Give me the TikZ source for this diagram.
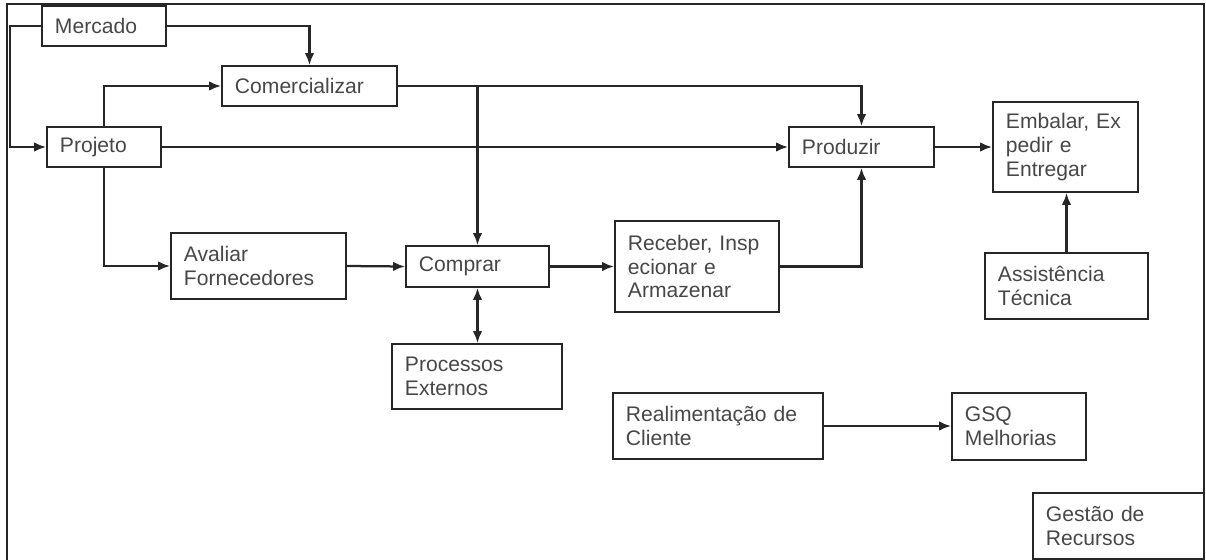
\documentclass[tikz,border=0pt]{standalone}
\usepackage{fontspec}
\setmainfont{Liberation Sans}
\usetikzlibrary{shapes,arrows,arrows.meta}
\usetikzlibrary{calc}
\usetikzlibrary{positioning}

\begin{document}
\begin{tikzpicture}[x=0.025cm, y=-0.025cm,
	caixa/.style={rectangle,draw=black!85,line width=1.3pt,align=left,inner xsep=0.325cm,inner ysep=0pt,
		font=\fontsize{15}{17}\selectfont,text=black!72,minimum height=1cm},
	ponta/.tip={Latex[length=3mm,width=2.4mm]},
	fluxo/.style={draw=black!85,line width=1.6pt,-ponta}]

	\useasboundingbox (0,0) rectangle (1206,560);
	\draw[black!85,line width=1.6pt] (7,565) -- (7,4) -- (1204,4) -- (1204,565);

	\node[caixa, text width=2.45cm] (merc) at (104,26) {Mercado};
	\node[caixa, text width=3.725cm] (comer) at (309.5,86) {Comercializar};
	\node[caixa, text width=2.2cm] (proj) at (104,147) {Projeto};
	\node[caixa, text width=2.975cm] (prod) at (861.5,147) {Produzir};
	\node[caixa, text width=2.975cm, minimum height=2.25cm] (emb) at (1065.5,147) {Embalar, Ex\\pedir e\\Entregar};
	\node[caixa, text width=3.425cm, minimum height=1.65cm] (asst) at (1066.5,286) {Assistência\\Técnica};
	\node[caixa, text width=3.725cm, minimum height=1.65cm] (aval) at (258.5,266) {Avaliar\\Fornecedores};
	\node[caixa, text width=2.925cm, minimum height=1.025cm] (compr) at (477.5,266.5) {Comprar};
	\node[caixa, text width=3.45cm, minimum height=2.275cm] (receb) at (697,266.5) {Receber, Insp\\ecionar e\\Armazenar};
	\node[caixa, text width=3.6cm, minimum height=1.625cm] (proc) at (477,376.5) {Processos\\Externos};
	\node[caixa, text width=4.6cm, minimum height=1.65cm] (real) at (718,426) {Realimentação de\\Cliente};
	\node[caixa, text width=2.7cm, minimum height=1.675cm] (gsq) at (1019,426.5) {GSQ\\Melhorias};
	\node[caixa, text width=3.625cm, minimum height=1.65cm] (gest) at (1118.5,526) {Gestão de\\Recursos};

	% ligacoes
	\draw[fluxo] (merc.west) -- ++(-31,0) |- (proj.west);
	\draw[fluxo] (merc.east) -| (comer.north);
	\draw[fluxo] (proj.north) |- (comer.west);
	\draw[fluxo] (proj.east) -- (prod.west);
	\draw[fluxo] (comer.east) -| (prod.north);
	\draw[fluxo] (comer.east -| compr.north) -- (compr.north);
	\draw[fluxo] (proj.south) |- (aval.west);
	\draw[fluxo] (aval.east) -- (compr.west);
	\draw[fluxo] (compr.east) -- (receb.west);
	\draw[fluxo] (receb.east) -| (prod.south);
	\draw[fluxo] (prod.east) -- (emb.west);
	\draw[fluxo] (asst.north) -- (asst.north |- emb.south);
	\draw[fluxo,ponta-ponta] (compr.south) -- (compr.south |- proc.north);
	\draw[fluxo] (real.east) -- (real.east -| gsq.west);
\end{tikzpicture}
\end{document}
